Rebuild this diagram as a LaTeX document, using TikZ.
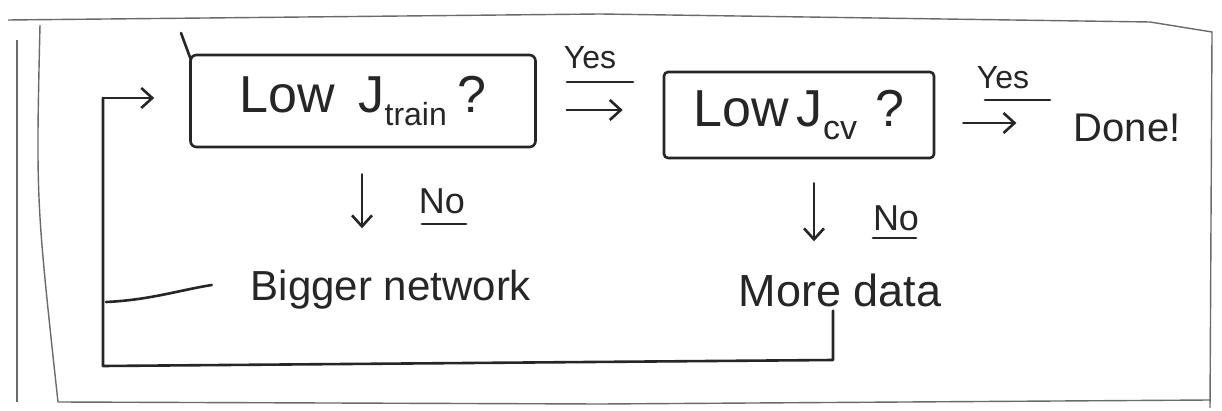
\documentclass[tikz,border=0pt]{standalone}
\usepackage{fontspec}
\setmainfont{Liberation Sans}
\usetikzlibrary{arrows.meta,calc}
\definecolor{ink}{HTML}{262626}
\definecolor{frame}{HTML}{6A6A6A}
\tikzset{
  ink/.style={draw=ink, line width=2.6pt, line cap=round, line join=round},
  arr/.style={ink, -{Straight Barb[length=11pt,width=20pt,line width=2.6pt]}},
  boxq/.style={ink, rounded corners=6pt, inner sep=0pt, text=ink},
  lbl/.style={text=ink, inner sep=1pt},
  framel/.style={draw=frame, line width=1.4pt}
}
\begin{document}
\begin{tikzpicture}[x=1pt,y=-1pt]
\useasboundingbox[fill=white] (0,0) rectangle (1222,411);
% paper frame
\draw[framel] (8,20) -- (600,14) -- (1150,22) -- (1212,32) -- (1210,408);
\draw[framel] (17,40) -- (17,402);
\draw[framel] (40,25) .. controls (36,200) .. (58,402);
\draw[framel] (58,402) -- (600,404) -- (1210,400);
% decision boxes
\node[boxq, minimum width=345pt, minimum height=92pt, font=\fontsize{52}{52}\selectfont]
  (b1) at (363,101) {Low\hspace{0.45em}J\raisebox{-0.25em}{\fontsize{32}{32}\selectfont train}\hspace{0.2em}?};
\node[boxq, rounded corners=4pt, minimum width=270pt, minimum height=86pt, font=\fontsize{52}{52}\selectfont]
  (b2) at (799,115) {Low\hspace{0.15em}J\raisebox{-0.25em}{\fontsize{34}{34}\selectfont cv}\hspace{0.35em}?};
\draw[ink] (181,33) -- (191,60);
% outcomes
\node[lbl, font=\fontsize{40}{40}\selectfont] (done) at (1127,128) {Done!};
\node[lbl, font=\fontsize{42}{42}\selectfont] (big) at (391,290) {Bigger network};
\node[lbl, font=\fontsize{45}{45}\selectfont] (more) at (840,290) {More data};
% yes arrows
\coordinate (y1s) at (563,110);
\draw[arr] (b1.east |- y1s) ++(30,0) coordinate (a1s) -- ($(b2.west |- y1s)+(-40,0)$) coordinate (a1e);
\node[lbl, font=\fontsize{32}{32}\selectfont, anchor=south] (yes1) at (590,70) {Yes};
\draw[ink] (567,82) -- (633,82);
\draw[arr] ($(b2.east)+(28,8)$) coordinate (a2s) -- ($(done.west)+(-56,-5)$) coordinate (a2e);
\node[lbl, font=\fontsize{32}{32}\selectfont, anchor=south] (yes2) at (1003,90) {Yes};
\draw[ink] (985,100) -- (1050,100);
% no arrows
\draw[arr] ($(b1.south)+(-1,26)$) -- ($(b1.south)+(-1,80)$);
\node[lbl, font=\fontsize{36}{36}\selectfont, anchor=south] (no1) at (442,215) {No};
\draw[ink] (422,224) -- (466,224);
\draw[arr] ($(b2.south)+(15,24)$) -- ($(b2.south)+(15,82)$);
\node[lbl, font=\fontsize{36}{36}\selectfont, anchor=south] (no2) at (896,232) {No};
\draw[ink] (873,238) -- (916,238);
% feedback loop
\coordinate (lbot) at (103,366);
\coordinate (ltop) at (103,98);
\draw[ink] ($(more.south)+(-7,3)$) coordinate (m1) -- (m1 |- 0,360) -- (lbot) -- (ltop);
\draw[arr] (ltop) -- ($(b1.west |- ltop)+(-35,0)$);
\draw[ink] (106,302) .. controls (150,300) and (180,290) .. ($(big.west)+(-38,-5)$);
\end{tikzpicture}
\end{document}
